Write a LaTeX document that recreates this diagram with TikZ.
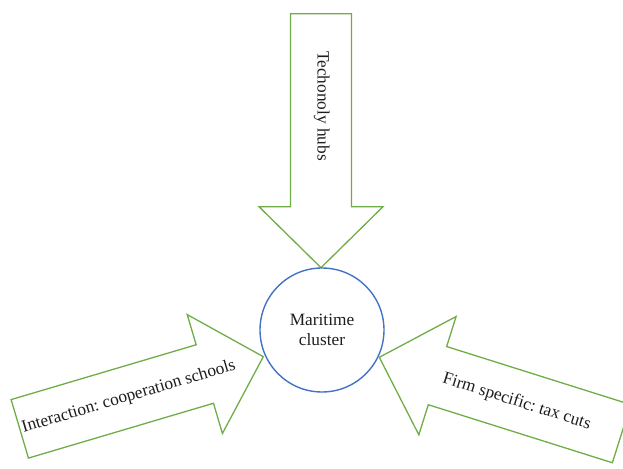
\documentclass[tikz,border=0pt]{standalone}
\usepackage{fontspec}
\setmainfont{Liberation Serif}
\frenchspacing
\begin{document}
\begin{tikzpicture}[x=1pt,y=1pt,
  fatarrow/.style={draw=arrowgreen,line width=1.3pt,fill=white,line join=miter},
  arrowlabel/.style={text=labelgray,font=\fontsize{17.3}{20}\selectfont,inner sep=0pt},
  hub/.style={circle,draw=hubblue,line width=1.4pt,fill=white,minimum size=124pt,
    align=center,text=labelgray,font=\fontsize{17.3}{20}\selectfont,inner sep=0pt}]
\definecolor{arrowgreen}{RGB}{112,173,71}
\definecolor{hubblue}{RGB}{68,114,196}
\definecolor{labelgray}{RGB}{30,30,30}
\useasboundingbox (0,0) rectangle (623,468);
\clip (0,0) rectangle (623,468);
% block arrow: tip at the local origin, pointing along +x
\newcommand{\blockarrow}[2]{%
  \begin{scope}[shift={#1},rotate=#2]
    \path[fatarrow] (0,0) -- (-61,62) -- (-61,30.5) -- (-254,30.5)
      -- (-254,-30.5) -- (-61,-30.5) -- (-61,-62) -- cycle;
  \end{scope}}
\blockarrow{(321,200.3)}{-90}
\blockarrow{(263.3,111.3)}{16.5}
\blockarrow{(379.3,110.7)}{162.5}
\node[hub] (cluster) at (322,138) {Maritime\\cluster};
\node[arrowlabel,rotate=-90] (tech) at (321.7,362) {Techonoly hubs};
\node[arrowlabel,rotate=16.5] (inter) at (128.8,71) {Interaction: cooperation schools};
\node[arrowlabel,rotate=-17.5] (firm) at (516.7,66) {Firm specific: tax cuts};
\end{tikzpicture}
\end{document}
